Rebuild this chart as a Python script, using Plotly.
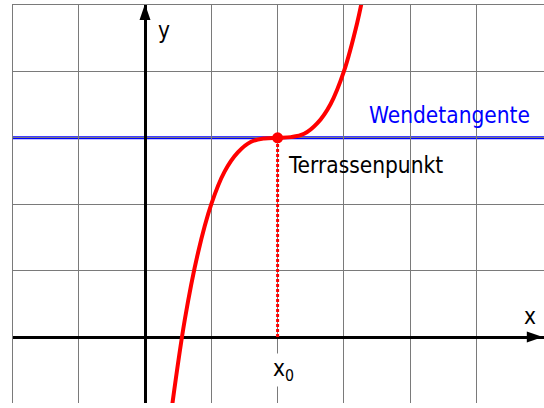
import plotly.graph_objects as go

# ---- data ----
curve_x = [0.4, 0.6, 0.8, 1.0, 1.2, 1.4, 1.6, 1.8, 2.0, 2.2, 2.4, 2.6, 2.8, 3.0, 3.2, 3.3]
curve_y = [-1.10, 0.26, 1.27, 2.0, 2.49, 2.78, 2.94, 2.99, 3.0, 3.01, 3.06, 3.22, 3.51, 4.0, 4.73, 5.20]
x0 = 2.0          # Terrassenpunkt x
y0 = 3.0          # Terrassenpunkt y (Wendetangente)
grid_x = [-1, 0, 1, 2, 3, 4, 5]
grid_y = [0, 1, 2, 3, 4]
axis_tip_x = 6.0
axis_tip_y = 5.0

# ---- pixel geometry helpers ----
W, H = 544, 408
ML, MT, MR, MB = 13, 5, 0, 5
PX_X = 66.3   # pixels per x unit
PX_Y = 66.4   # pixels per y unit
ORIG_PX = (145, 337)  # pixel of origin


def dx(px):
    return (px - ORIG_PX[0]) / PX_X


def dy(py):
    return (ORIG_PX[1] - py) / PX_Y


xr = [dx(ML), dx(W - MR)]
yr = [dy(H - MB), dy(MT)]

FONT = "DejaVu Sans Condensed, DejaVu Sans, Liberation Sans, Arial, sans-serif"
FS = 22.5
RED = "#ff0000"
BLUE = "#0000ff"
GRID = "#7a7a7a"

fig = go.Figure()

# curve
fig.add_trace(go.Scatter(
    x=curve_x, y=curve_y, mode="lines",
    line=dict(color=RED, width=4, shape="spline", smoothing=1.0),
    hoverinfo="skip", showlegend=False, cliponaxis=True,
))
# point
fig.add_trace(go.Scatter(
    x=[x0], y=[y0], mode="markers",
    marker=dict(color=RED, size=11, line=dict(width=0)),
    hoverinfo="skip", showlegend=False,
))

shapes = [
    # Wendetangente
    dict(type="line", xref="paper", yref="y", x0=0, x1=1, y0=y0, y1=y0,
         line=dict(color=BLUE, width=3), layer="below"),
    # dotted drop line
    dict(type="line", xref="x", yref="y", x0=x0, x1=x0, y0=0, y1=y0,
         line=dict(color=RED, width=3, dash="3px,2px"), layer="above"),
    # y-axis arrowhead
    dict(type="path", xref="x", yref="y", xsizemode="pixel", ysizemode="pixel",
         xanchor=0, yanchor=axis_tip_y, path="M0,1 L-5.5,-15 L5.5,-15 Z",
         fillcolor="black", line=dict(width=0), layer="above"),
    # x-axis arrowhead
    dict(type="path", xref="x", yref="y", xsizemode="pixel", ysizemode="pixel",
         xanchor=axis_tip_x, yanchor=0, path="M0,0 L-16,5.5 L-16,-5.5 Z",
         fillcolor="black", line=dict(width=0), layer="above"),
]

annotations = [
    dict(text="Wendetangente", x=dx(449), y=dy(115), xref="x", yref="y",
         showarrow=False, xanchor="center", yanchor="middle",
         font=dict(family=FONT, size=FS, color=BLUE)),
    dict(text="Terrassenpunkt", x=dx(286), y=dy(165), xref="x", yref="y",
         showarrow=False, xanchor="left", yanchor="middle",
         font=dict(family=FONT, size=FS, color="black")),
    dict(text="y", x=dx(164), y=dy(30), xref="x", yref="y",
         showarrow=False, xanchor="center", yanchor="middle",
         font=dict(family=FONT, size=FS, color="black")),
    dict(text="x", x=dx(529.5), y=dy(316), xref="x", yref="y",
         showarrow=False, xanchor="center", yanchor="middle",
         font=dict(family=FONT, size=FS, color="black")),
    dict(text="x<sub>0</sub>", x=dx(283), y=dy(370), xref="x", yref="y",
         showarrow=False, xanchor="center", yanchor="middle",
         bgcolor="white", borderpad=1,
         font=dict(family=FONT, size=FS, color="black")),
]

fig.update_layout(
    width=W, height=H,
    margin=dict(l=ML, r=MR, t=MT, b=MB, pad=0),
    paper_bgcolor="white", plot_bgcolor="white",
    shapes=shapes, annotations=annotations,
    showlegend=False,
    xaxis=dict(range=xr, tickmode="array", tickvals=grid_x, showticklabels=False,
               ticks="", showgrid=True, gridcolor=GRID, gridwidth=1,
               zeroline=True, zerolinecolor="black", zerolinewidth=3,
               side="top", showline=True, linecolor=GRID, linewidth=1.5,
               fixedrange=True),
    yaxis=dict(range=yr, tickmode="array", tickvals=grid_y, showticklabels=False,
               ticks="", showgrid=True, gridcolor=GRID, gridwidth=1,
               zeroline=True, zerolinecolor="black", zerolinewidth=3,
               side="left", showline=True, linecolor=GRID, linewidth=1.5,
               fixedrange=True),
)

fig.write_html(
    "out.html",
    config={"displayModeBar": False, "staticPlot": True},
    post_script="document.body.style.margin='0';document.body.style.padding='0';"
                "document.body.style.overflow='hidden';",
)
